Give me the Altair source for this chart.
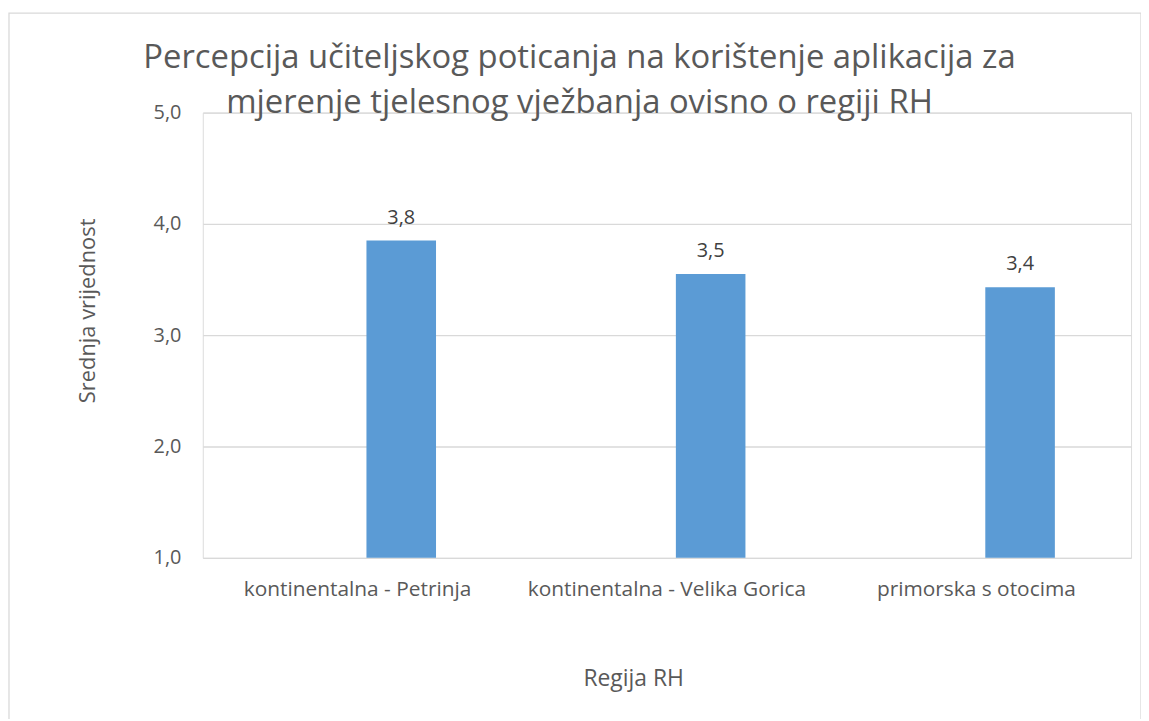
import altair as alt
import pandas as pd

categories = ["kontinentalna - Petrinja", "kontinentalna - Velika Gorica", "primorska s otocima"]
values = [3.85, 3.55, 3.43]
labels = ["3,8", "3,5", "3,4"]

df = pd.DataFrame({"regija": categories, "vrijednost": values, "oznaka": labels})

FONT = "Open Sans"
TXT = "#595959"

base = alt.Chart(df)

x_enc = alt.X(
    "regija:N",
    sort=categories,
    scale=alt.Scale(paddingInner=0, paddingOuter=0, round=False),
    axis=alt.Axis(
        title="Regija RH",
        labelAngle=0,
        labelFontSize=21,
        labelColor=TXT,
        labelFont=FONT,
        labelPadding=21,
        labelLimit=400,
        ticks=False,
        domain=False,
        titleFontSize=23,
        titleFont=FONT,
        titleFontWeight="normal",
        titleColor=TXT,
        titleX=433,
        titleY=128,
        titleAlign="center",
        titleBaseline="alphabetic",
    ),
)

y_enc = alt.Y(
    "vrijednost:Q",
    scale=alt.Scale(domain=[1, 5], zero=False, nice=False),
    axis=alt.Axis(
        title="Srednja vrijednost",
        values=[1, 2, 3, 4, 5],
        labelExpr="replace(format(datum.value, '.1f'), '.', ',')",
        labelFontSize=20,
        labelColor=TXT,
        labelFont=FONT,
        labelPadding=22,
        ticks=False,
        domain=False,
        grid=True,
        gridColor="#D9D9D9",
        gridWidth=1.3,
        titleFontSize=22,
        titleFont=FONT,
        titleFontWeight="normal",
        titleColor=TXT,
        titleAngle=-90,
        titleX=-116,
        titleY=199,
        titleAlign="center",
        titleBaseline="middle",
    ),
)

bars = base.mark_bar(color="#5B9BD5", size=70, xOffset=44).encode(
    x=x_enc, y=y_enc, y2=alt.datum(1)
)

text = base.mark_text(
    dx=44, dy=-17, baseline="alphabetic", fontSize=20, font=FONT, color="#404040"
).encode(x=alt.X("regija:N", sort=categories), y="vrijednost:Q", text="oznaka:N")

border = alt.Chart(alt.Data(values=[{}])).mark_rect(
    fill=None, stroke="#D9D9D9", strokeWidth=1.3
).encode(
    x=alt.value(-195), x2=alt.value(944), y=alt.value(-100), y2=alt.value(640)
)

chart = (
    alt.layer(border, bars, text)
    .properties(
        width=934,
        height=448,
        autosize=alt.AutoSizeParams(type="none"),
        padding={"left": 196, "top": 103, "right": 10, "bottom": 160},
        title=alt.TitleParams(
            text=[
                "Percepcija učiteljskog poticanja na korištenje aplikacija za",
                "mjerenje tjelesnog vježbanja ovisno o regiji RH",
            ],
            fontSize=33,
            font=FONT,
            fontWeight="normal",
            color=TXT,
            anchor="middle",
            frame="group",
            dx=-88,
            dy=96,
            offset=-12,
            lineHeight=45,
        ),
    )
    .configure_view(stroke=None)
    .configure(background="white")
)

chart.save("out.html", embed_options={"renderer": "svg", "actions": False})
